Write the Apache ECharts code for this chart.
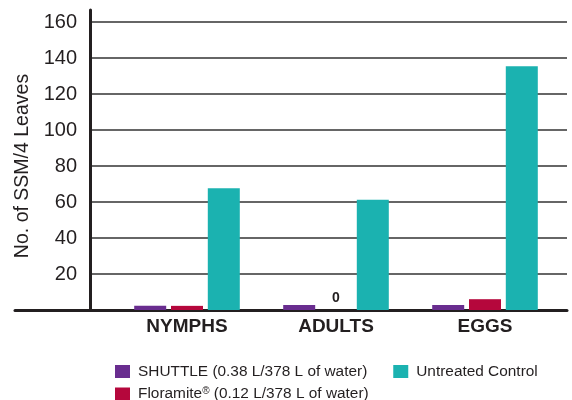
<!DOCTYPE html>
<html>
<head>
<meta charset="utf-8">
<script src="https://cdn.jsdelivr.net/npm/echarts@6/dist/echarts.min.js"></script>
<style>
  html, body { margin: 0; padding: 0; background: #fff; }
  #chart { width: 572px; height: 400px; }
</style>
</head>
<body>
<div id="chart"></div>
<script>
// data
var categories = ['NYMPHS', 'ADULTS', 'EGGS']
var shuttle = [2.3, 2.8, 2.8]
var floramite = [2.3, 0, 6]
var control = [67.6, 61.3, 135.4]
var seriesNames = ['SHUTTLE (0.38 L/378 L of water)', 'Floramite® (0.12 L/378 L of water)', 'Untreated Control']
var yTicks = [0, 20, 40, 60, 80, 100, 120, 140, 160]

var colors = ['#692d8f', '#b5073c', '#1bb2b0']
var axisColor = '#231f20'
var font = 'Liberation Sans'

var chart = echarts.init(document.getElementById('chart'))

// 0 value gets a label like in the original
function withZeroLabel(arr) {
  return arr.map(function (v) {
    if (v !== 0) return v
    return {
      value: v,
      label: {
        show: true, position: 'top', distance: 5,
        formatter: '0', color: axisColor,
        fontFamily: font, fontWeight: 'bold', fontSize: 14
      }
    }
  })
}

var yMax = yTicks[yTicks.length - 1]
var hiddenY = function (idx) {
  return { type: 'value', gridIndex: idx, min: 0, max: yMax, interval: 20, show: false }
}
var hiddenX = function (idx) {
  return { type: 'category', gridIndex: idx, data: categories, show: false }
}

var option = {
  animation: false,
  backgroundColor: '#fff',
  grid: [
    { left: 15, right: 5, top: 22, bottom: 90 },     // baseline
    { left: 90, right: 5, top: 22, bottom: 90 },     // y labels + gridlines
    { left: 90, width: 1, top: 10, bottom: 90 },     // y axis line
    { left: 112.5, width: 447, top: 22, bottom: 90 } // bars
  ],
  xAxis: [
    {
      type: 'category', gridIndex: 0, data: categories,
      axisLine: { lineStyle: { color: axisColor, width: 3 } },
      axisTick: { show: false }, axisLabel: { show: false }
    },
    hiddenX(1),
    hiddenX(2),
    {
      type: 'category', gridIndex: 3, data: categories,
      axisLine: { show: false }, axisTick: { show: false },
      axisLabel: {
        margin: 7, color: axisColor, fontFamily: font,
        fontWeight: 'bold', fontSize: 19
      }
    }
  ],
  yAxis: [
    hiddenY(0),
    {
      type: 'value', gridIndex: 1, min: 0, max: yMax, interval: 20,
      name: 'No. of SSM/4 Leaves', nameLocation: 'middle', nameGap: 52,
      nameTextStyle: { color: axisColor, fontFamily: font, fontSize: 19.5 },
      axisLine: { show: false }, axisTick: { show: false },
      axisLabel: {
        margin: 13, color: axisColor, fontFamily: font, fontSize: 20,
        showMinLabel: false
      },
      splitLine: { lineStyle: { color: '#333', width: 1.5 } }
    },
    {
      type: 'value', gridIndex: 2, min: 0, max: 1,
      axisLine: { show: true, lineStyle: { color: axisColor, width: 3 } },
      axisTick: { show: false }, axisLabel: { show: false }, splitLine: { show: false }
    },
    hiddenY(3)
  ],
  legend: [
    {
      left: 110, top: 359, width: 460, itemWidth: 15, itemHeight: 13, itemGap: 26,
      icon: 'rect', selectedMode: false,
      data: [seriesNames[0], seriesNames[2]],
      textStyle: { color: axisColor, fontFamily: font, fontSize: 15.4, padding: [0, 0, 0, 3] }
    },
    {
      left: 110, top: 381, width: 460, itemWidth: 15, itemHeight: 13,
      icon: 'rect', selectedMode: false,
      data: [seriesNames[1]],
      formatter: function (name) { return name.replace('®', '{sup|®}') },
      textStyle: {
        color: axisColor, fontFamily: font, fontSize: 15.4, padding: [0, 0, 0, 3],
        rich: { sup: { fontSize: 10, fontFamily: font, color: axisColor, verticalAlign: 'top', padding: [0, 0, 6, 0] } }
      }
    }
  ],
  series: [
    {
      name: seriesNames[0], type: 'bar', xAxisIndex: 3, yAxisIndex: 3,
      barWidth: 32, barGap: '15%', itemStyle: { color: colors[0] },
      data: shuttle
    },
    {
      name: seriesNames[1], type: 'bar', xAxisIndex: 3, yAxisIndex: 3,
      barWidth: 32, barGap: '15%', itemStyle: { color: colors[1] },
      data: withZeroLabel(floramite)
    },
    {
      name: seriesNames[2], type: 'bar', xAxisIndex: 3, yAxisIndex: 3,
      barWidth: 32, barGap: '15%', itemStyle: { color: colors[2] },
      data: control
    }
  ]
}
chart.setOption(option)
</script>
</body>
</html>
